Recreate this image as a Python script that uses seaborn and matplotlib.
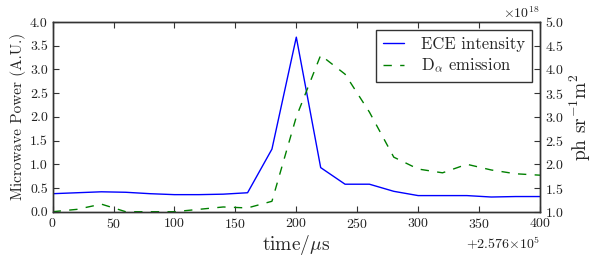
import matplotlib
matplotlib.use("Agg")
import matplotlib.pyplot as plt
import numpy as np
import pandas as pd
import seaborn as sns

t0 = 257600
time_us = [0, 20, 40, 60, 80, 100, 120, 140, 160, 180, 200,
           220, 240, 260, 280, 300, 320, 340, 360, 380, 400]
ece = [0.38, 0.40, 0.42, 0.41, 0.38, 0.36, 0.36, 0.37, 0.40, 1.32, 3.68,
       0.93, 0.58, 0.58, 0.43, 0.34, 0.34, 0.34, 0.31, 0.32, 0.32]
dalpha = [1.00, 1.05, 1.16, 1.00, 1.00, 1.00, 1.05, 1.10, 1.08, 1.22, 3.00,
          4.30, 3.90, 3.10, 2.15, 1.90, 1.82, 2.00, 1.88, 1.80, 1.77]  # x1e18

sns.set_style("ticks", {"xtick.direction": "in", "ytick.direction": "in"})
plt.rcParams['font.family'] = ['cmr10', 'DejaVu Serif']
plt.rcParams['mathtext.fontset'] = 'cm'
plt.rcParams['axes.formatter.use_mathtext'] = True
plt.rcParams['axes.unicode_minus'] = False


class TightFormatter(matplotlib.ticker.ScalarFormatter):
    # offset/scale text without spaces around the times sign
    def get_offset(self):
        s = super().get_offset()
        return s.replace(r'\times', r'{\times}')


df = pd.DataFrame({
    "time": np.array(time_us) + t0,
    "ece": ece,
    "dalpha": np.array(dalpha) * 1e18,
})

fig, ax = plt.subplots(figsize=(5.98, 2.68), dpi=100)
ax2 = ax.twinx()

sns.lineplot(data=df, x="time", y="ece", ax=ax, color="#0000ff", lw=1.0,
             label="ECE intensity", legend=False)
sns.lineplot(data=df, x="time", y="dalpha", ax=ax2, color="#008000", lw=1.0,
             label=r"D$_\alpha$ emission", legend=False)
ax2.lines[0].set_dashes((6, 6))

ax.set_xlim(t0, t0 + 400)
ax.set_ylim(0, 4.0)
ax2.set_ylim(1e18, 5e18)
ax.set_xticks(np.arange(t0, t0 + 401, 50))
ax.set_yticks(np.arange(0, 4.01, 0.5))
ax2.set_yticks(np.arange(1e18, 5.01e18, 0.5e18))
ax.xaxis.set_major_formatter(TightFormatter(useOffset=t0, useMathText=True))
ax2.yaxis.set_major_formatter(TightFormatter(useMathText=True))
ax.yaxis.set_major_formatter(matplotlib.ticker.FormatStrFormatter('%.1f'))

ax.set_xlabel(r"time/$\mu$s", fontsize=14, labelpad=2)
ax.set_ylabel("Microwave Power (A.U.)", fontsize=11, labelpad=3)
ax2.set_ylabel(r"ph sr$^{-1}$m$^2$", fontsize=14, labelpad=3)

for a in (ax, ax2):
    a.tick_params(labelsize=10, length=4, width=0.8, colors="#333333",
                  labelcolor="#222222")
    for s in a.spines.values():
        s.set_linewidth(1.0)
        s.set_color("#333333")
ax.tick_params(top=True)
ax.xaxis.get_offset_text().set_fontsize(10)
ax2.yaxis.get_offset_text().set_fontsize(10)

h1, l1 = ax.get_legend_handles_labels()
h2, l2 = ax2.get_legend_handles_labels()
leg = ax2.legend(h1 + h2, l1 + l2, loc="upper right", fontsize=12,
                 frameon=True, fancybox=False, borderaxespad=0.5,
                 handlelength=1.3, handletextpad=1.0, borderpad=0.4,
                 labelspacing=0.3)
leg.get_frame().set_edgecolor("black")
leg.get_frame().set_linewidth(1.0)

fig.subplots_adjust(left=0.088, right=0.903, top=0.918, bottom=0.21)
fig.savefig("out.png", dpi=100)
